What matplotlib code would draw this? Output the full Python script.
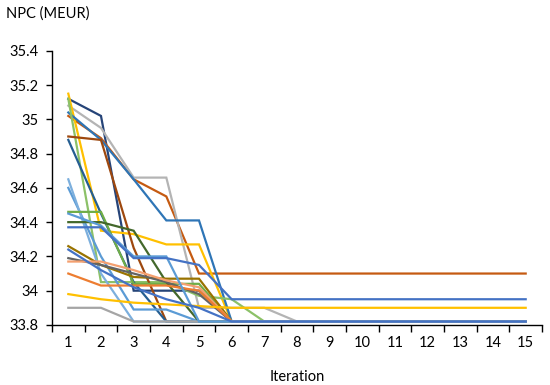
import matplotlib
matplotlib.use("Agg")
import matplotlib.pyplot as plt

plt.rcParams['font.family'] = ['Lato', 'DejaVu Sans']

iterations = list(range(1, 16))

# NPC per iteration for each run (MEUR)
navy_run = [35.12, 35.02, 34.00, 34.00, 34.00, 33.82, 33.82, 33.82, 33.82, 33.82, 33.82, 33.82, 33.82, 33.82, 33.82]
dark_orange_run = [35.02, 34.89, 34.65, 34.55, 34.10, 34.10, 34.10, 34.10, 34.10, 34.10, 34.10, 34.10, 34.10, 34.10, 34.10]
gray_run = [35.08, 34.95, 34.66, 34.66, 33.90, 33.90, 33.90, 33.82, 33.82, 33.82, 33.82, 33.82, 33.82, 33.82, 33.82]
yellow_run = [35.15, 34.35, 34.33, 34.27, 34.27, 33.82, 33.82, 33.82, 33.82, 33.82, 33.82, 33.82, 33.82, 33.82, 33.82]
blue_run = [35.04, 34.88, 34.65, 34.41, 34.41, 33.82, 33.82, 33.82, 33.82, 33.82, 33.82, 33.82, 33.82, 33.82, 33.82]
light_green_run = [35.12, 34.05, 34.05, 34.05, 33.97, 33.95, 33.82, 33.82, 33.82, 33.82, 33.82, 33.82, 33.82, 33.82, 33.82]
brown_run = [34.90, 34.88, 34.25, 33.82, 33.82, 33.82, 33.82, 33.82, 33.82, 33.82, 33.82, 33.82, 33.82, 33.82, 33.82]
navy2_run = [34.88, 34.45, 34.05, 33.82, 33.82, 33.82, 33.82, 33.82, 33.82, 33.82, 33.82, 33.82, 33.82, 33.82, 33.82]
light_blue_run = [34.60, 34.20, 33.89, 33.89, 33.82, 33.82, 33.82, 33.82, 33.82, 33.82, 33.82, 33.82, 33.82, 33.82, 33.82]
pale_blue_run = [34.65, 34.10, 33.82, 33.82, 33.82, 33.82, 33.82, 33.82, 33.82, 33.82, 33.82, 33.82, 33.82, 33.82, 33.82]
green_run = [34.46, 34.46, 34.04, 34.04, 34.04, 33.82, 33.82, 33.82, 33.82, 33.82, 33.82, 33.82, 33.82, 33.82, 33.82]
dark_green_run = [34.40, 34.40, 34.35, 34.05, 33.82, 33.82, 33.82, 33.82, 33.82, 33.82, 33.82, 33.82, 33.82, 33.82, 33.82]
mid_blue_run = [34.37, 34.37, 34.19, 34.19, 34.15, 33.95, 33.95, 33.95, 33.95, 33.95, 33.95, 33.95, 33.95, 33.95, 33.95]
olive_run = [34.26, 34.15, 34.08, 34.07, 34.07, 33.82, 33.82, 33.82, 33.82, 33.82, 33.82, 33.82, 33.82, 33.82, 33.82]
dark_gray_run = [34.19, 34.15, 34.10, 34.05, 33.98, 33.82, 33.82, 33.82, 33.82, 33.82, 33.82, 33.82, 33.82, 33.82, 33.82]
light_orange_run = [34.17, 34.17, 34.12, 34.06, 34.02, 33.82, 33.82, 33.82, 33.82, 33.82, 33.82, 33.82, 33.82, 33.82, 33.82]
orange_run = [34.10, 34.03, 34.03, 34.03, 34.00, 33.82, 33.82, 33.82, 33.82, 33.82, 33.82, 33.82, 33.82, 33.82, 33.82]
yellow2_run = [33.98, 33.95, 33.93, 33.92, 33.91, 33.90, 33.90, 33.90, 33.90, 33.90, 33.90, 33.90, 33.90, 33.90, 33.90]
gray2_run = [33.90, 33.90, 33.82, 33.82, 33.82, 33.82, 33.82, 33.82, 33.82, 33.82, 33.82, 33.82, 33.82, 33.82, 33.82]
sky_run = [34.45, 34.38, 34.20, 34.20, 33.82, 33.82, 33.82, 33.82, 33.82, 33.82, 33.82, 33.82, 33.82, 33.82, 33.82]
base_run = [34.24, 34.12, 34.02, 33.95, 33.90, 33.82, 33.82, 33.82, 33.82, 33.82, 33.82, 33.82, 33.82, 33.82, 33.82]

runs = [
    (navy_run, "#264478"),
    (dark_orange_run, "#C55A11"),
    (gray_run, "#B4B4B4"),
    (yellow_run, "#FFC000"),
    (blue_run, "#2E75B6"),
    (light_green_run, "#8CC168"),
    (brown_run, "#9E480E"),
    (navy2_run, "#255E91"),
    (light_blue_run, "#5B9BD5"),
    (pale_blue_run, "#7CAFDD"),
    (green_run, "#70AD47"),
    (dark_green_run, "#43682B"),
    (olive_run, "#997300"),
    (dark_gray_run, "#636363"),
    (light_orange_run, "#F4A070"),
    (orange_run, "#ED7D31"),
    (yellow2_run, "#FFC000"),
    (gray2_run, "#A5A5A5"),
    (sky_run, "#5B9BD5"),
    (mid_blue_run, "#4472C4"),
    (base_run, "#4472C4"),
]

y_ticks = [33.8, 34.0, 34.2, 34.4, 34.6, 34.8, 35.0, 35.2, 35.4]

fig = plt.figure(figsize=(5.5, 3.85), dpi=100)
ax = fig.add_axes([0.0945, 0.156, 0.891, 0.712])

for vals, col in runs:
    ax.plot(iterations, vals, color=col, lw=1.6, solid_joinstyle='miter')

ax.set_xlim(0.5, 15.5)
ax.set_ylim(33.8, 35.4)
ax.set_yticks(y_ticks)
ax.set_yticklabels([f"{v:g}" for v in y_ticks])
ax.set_xticks(iterations)
ax.set_xticks([i + 0.5 for i in range(0, 16)], minor=True)
ax.tick_params(axis='x', which='major', length=0, pad=8, labelsize=10.5)
ax.tick_params(axis='x', which='minor', length=5, width=1, direction='out')
ax.tick_params(axis='y', length=4, width=1, direction='out', labelsize=10.5, pad=6)

for side in ['top', 'right']:
    ax.spines[side].set_visible(False)
for side in ['left', 'bottom']:
    ax.spines[side].set_linewidth(1)
    ax.spines[side].set_color('black')

fig.text(0.01, 0.965, "NPC (MEUR)", fontsize=10.5, va='center', ha='left')
fig.text(0.54, 0.022, "Iteration", fontsize=10.5, va='center', ha='center')

fig.savefig("out.png", dpi=100)
